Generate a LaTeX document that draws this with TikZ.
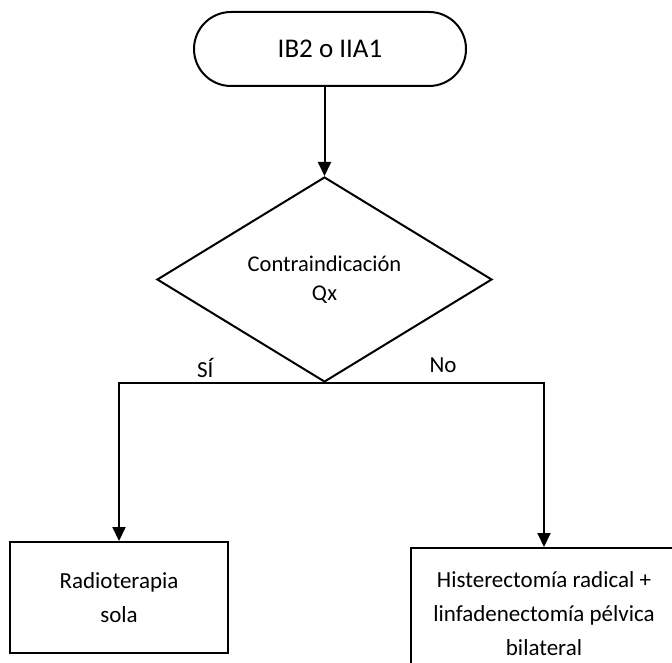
\documentclass[tikz,border=0pt]{standalone}
\usepackage{fontspec}
\setmainfont{Carlito}
\usetikzlibrary{shapes.geometric,arrows.meta}

\begin{document}
\begin{tikzpicture}[x=1pt, y=-1pt, line width=2pt,
    flow/.style={-{Triangle[width=13pt,length=14pt]}},
    box/.style={draw, rectangle, align=center, font=\fontsize{23}{34}\selectfont}]
    \useasboundingbox (0,0) rectangle (672,663);
    \clip (0,0) rectangle (672,663);

    % Start
    \node[draw, rectangle, rounded corners=37pt, minimum width=272pt, minimum height=74pt,
          font=\fontsize{27}{32}\selectfont] (start) at (330,49) {\raisebox{-3pt}{IB2 o IIA1}};

    % Decision
    \node[draw, diamond, inner sep=0pt, minimum width=335pt, minimum height=205pt,
          align=center, font=\fontsize{22.5}{29}\selectfont] (dec) at (324.5,279.5)
          {Contraindicación\\Qx};

    % Outcomes
    \node[box, minimum width=218pt, minimum height=111pt] (radio) at (119,597.5)
          {Radioterapia\\sola};
    \node[box, minimum width=266pt, minimum height=132pt] (hist) at (544,614)
          {Histerectomía radical +\\linfadenectomía pélvica\\bilateral};

    % Connections
    \draw[flow] (dec.north |- start.south) -- (dec.north);
    \draw[flow] (dec.south) -| (radio.north) node[pos=0.29, above=1pt, font=\fontsize{23}{28}\selectfont] {SÍ};
    \draw[flow] (dec.south) -| (hist.north) node[pos=0.27, above=6pt, font=\fontsize{23}{28}\selectfont] {No};
\end{tikzpicture}
\end{document}
